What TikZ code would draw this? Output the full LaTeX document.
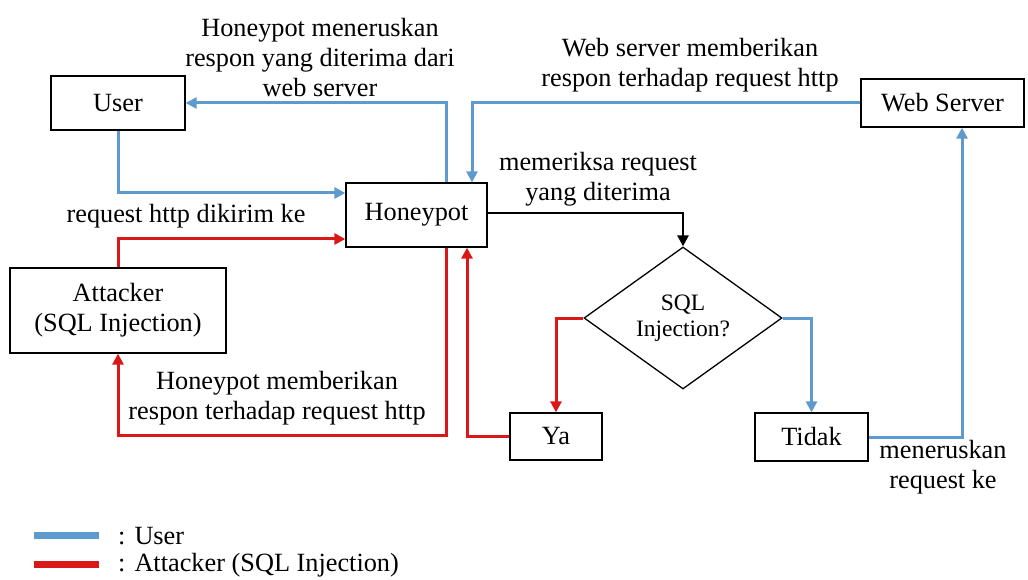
\documentclass[tikz,border=0pt]{standalone}
\usepackage{fontspec}
\setmainfont{Liberation Serif}
\usetikzlibrary{shapes.geometric,arrows.meta}
\definecolor{ublue}{RGB}{94,154,206}
\definecolor{ared}{RGB}{218,24,24}
\tikzset{
  box/.style={draw=black,line width=1.3pt,rectangle,inner sep=0pt,align=center},
  lbl/.style={align=center,inner sep=0pt},
  tip/.style={-{Triangle[length=11pt,width=11pt]}},
  bluel/.style={draw=ublue,line width=3pt,tip},
  redl/.style={draw=ared,line width=3pt,tip},
  blackl/.style={draw=black,line width=2.6pt,tip},
}
\begin{document}
\begin{tikzpicture}[x=1pt,y=-1pt,font=\rmfamily\fontsize{26.3}{30}\selectfont]
\useasboundingbox (0,0) rectangle (1028,580);
% nodes
\node[box,minimum width=134pt,minimum height=54pt] (user) at (118,103) {User};
\node[box,minimum width=141pt,minimum height=64pt] (hp) at (416.5,215) {Honeypot};
\node[box,minimum width=216pt,minimum height=85pt] (att) at (118,310.5) {Attacker\\(SQL Injection)};
\node[box,minimum width=163pt,minimum height=48pt] (ws) at (942.5,103) {Web Server};
\node[draw=black,line width=1.3pt,diamond,inner sep=0pt,minimum width=198pt,minimum height=142pt,align=center,font=\rmfamily\fontsize{23.5}{26}\selectfont] (dia) at (683,318) {SQL\\Injection?};
\node[box,minimum width=92pt,minimum height=47pt] (ya) at (556,436.5) {Ya};
\node[box,minimum width=113pt,minimum height=48pt] (tidak) at (811.5,437) {Tidak};
% labels
\node[lbl] (t1) at (320,58) {Honeypot meneruskan\\respon yang diterima dari\\web server};
\node[lbl] (t2) at (690,65) {Web server memberikan\\respon terhadap request http};
\node[lbl] (t3) at (598,179) {memeriksa request\\yang diterima};
\node[lbl] (t4) at (186,216) {request http dikirim ke};
\node[lbl] (t5) at (277,398) {Honeypot memberikan\\respon terhadap request http};
\node[lbl] (t6) at (943,467) {meneruskan\\request ke};
% blue connectors
\draw[bluel] ([xshift=29.5pt]hp.north) |- (user.east);
\draw[bluel] (user.south) |- ([yshift=22pt]hp.west);
\draw[bluel] (ws.west) -| ([xshift=55.5pt]hp.north);
\draw[bluel] (dia.east) -| (tidak.north);
\draw[bluel] (tidak.east) -| ([xshift=19.5pt]ws.south);
% black connector
\draw[blackl] ([yshift=2pt]hp.east) -| (dia.north);
% red connectors
\draw[redl] (att.north) |- ([yshift=-24pt]hp.west);
\coordinate (r1) at (446,435);
\draw[redl] ([xshift=29.5pt]hp.south) -- (r1) -| (att.south);
\draw[redl] (ya.west) -| ([xshift=50.5pt]hp.south);
\draw[redl] (dia.west) -| (ya.north);
% legend
\coordinate (lb1) at (34,535); \coordinate (lb2) at (99,535);
\coordinate (lr1) at (34,564); \coordinate (lr2) at (99,564);
\draw[ublue,line width=7pt] (lb1) -- (lb2);
\draw[ared,line width=7pt] (lr1) -- (lr2);
\node[lbl,anchor=west] (leg1) at (118,536) {:\hspace{9pt}User};
\node[lbl,anchor=west] (leg2) at (118,565) {:\hspace{9pt}Attacker (SQL Injection)};
\end{tikzpicture}
\end{document}
